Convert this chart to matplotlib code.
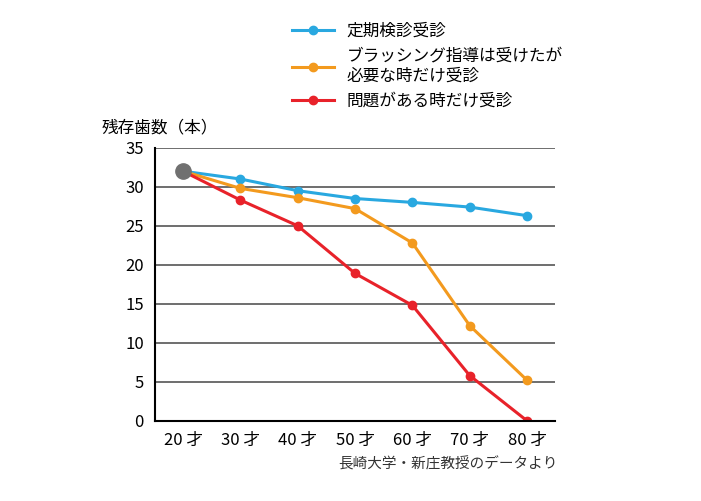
import matplotlib
matplotlib.use("Agg")
import matplotlib.pyplot as plt
plt.rcParams['font.family'] = ['Noto Sans CJK JP', 'DejaVu Sans']

ages = [20, 30, 40, 50, 60, 70, 80]
xlabels = ["20 才", "30 才", "40 才", "50 才", "60 才", "70 才", "80 才"]
regular = [32, 31, 29.5, 28.5, 28, 27.4, 26.3]
brushing = [32, 29.8, 28.6, 27.2, 22.8, 12.2, 5.2]
problem = [32, 28.3, 25, 18.9, 14.8, 5.8, 0]
names = ["定期検診受診", "ブラッシング指導は受けたが\n必要な時だけ受診", "問題がある時だけ受診"]
colors = ["#29a8e0", "#f39a1e", "#e8222a"]

fig = plt.figure(figsize=(7.01, 5.01), dpi=100)
ax = fig.add_axes([0.221, 0.16, 0.571, 0.545])
for vals, c, n in zip([regular, brushing, problem], colors, names):
    ax.plot(ages, vals, color=c, lw=2.2, marker='o', ms=6, label=n)
ax.plot([ages[0]], [regular[0]], 'o', color='#707070', ms=11, zorder=5)
ax.set_xlim(15.1, 84.9)
ax.set_ylim(0, 35)
ax.set_yticks(range(0, 36, 5))
ax.set_xticks(ages)
ax.set_xticklabels(xlabels)
ax.grid(axis='y', color='#555555', lw=1.2)
ax.set_axisbelow(True)
for s in ['top', 'right']:
    ax.spines[s].set_visible(False)
ax.spines['left'].set_linewidth(1.5)
ax.spines['bottom'].set_linewidth(1.5)
ax.tick_params(length=0, labelsize=12, pad=8)
fig.text(0.145, 0.735, "残存歯数（本）", fontsize=12)
fig.text(0.795, 0.065, "長崎大学・新庄教授のデータより", fontsize=10.5, ha='right', color='#333333')
fig.legend(loc='upper left', bbox_to_anchor=(0.395, 0.985), frameon=False, fontsize=12,
           handlelength=2.5, labelspacing=0.5)
fig.savefig("out.png", dpi=100, facecolor='white')
